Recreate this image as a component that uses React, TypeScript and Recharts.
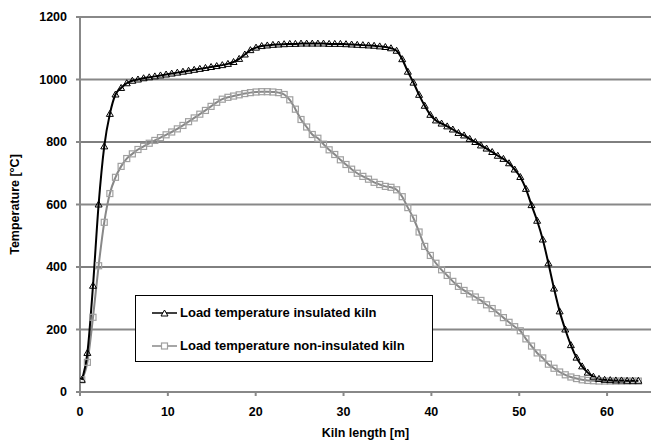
import { LineChart, Line, XAxis, YAxis, ReferenceLine, Legend, Label } from 'recharts'

// kiln position of every calculation point [m]
const KILN_X = [
  0.2, 0.84, 1.48, 2.12, 2.76, 3.4, 4.04, 4.68, 5.32, 5.96,
  6.6, 7.24, 7.88, 8.52, 9.16, 9.8, 10.44, 11.08, 11.72, 12.36,
  13.0, 13.64, 14.28, 14.92, 15.56, 16.2, 16.84, 17.48, 18.12, 18.76,
  19.4, 20.04, 20.68, 21.32, 21.96, 22.6, 23.24, 23.88, 24.52, 25.16,
  25.8, 26.44, 27.08, 27.72, 28.36, 29.0, 29.64, 30.28, 30.92, 31.56,
  32.2, 32.84, 33.48, 34.12, 34.76, 35.4, 36.04, 36.68, 37.32, 37.96,
  38.6, 39.24, 39.88, 40.52, 41.16, 41.8, 42.44, 43.08, 43.72, 44.36,
  45.0, 45.64, 46.28, 46.92, 47.56, 48.2, 48.84, 49.48, 50.12, 50.76,
  51.4, 52.04, 52.68, 53.32, 53.96, 54.6, 55.24, 55.88, 56.52, 57.16,
  57.8, 58.44, 59.08, 59.72, 60.36, 61.0, 61.64, 62.28, 62.92, 63.56,
]

// load temperature, insulated kiln [°C]
const INSULATED = [
  39, 125, 340, 600, 786, 890, 952, 973, 988, 996,
  1000, 1004, 1007, 1010, 1013, 1016, 1019, 1022, 1025, 1028,
  1031, 1034, 1037, 1040, 1043, 1046, 1050, 1056, 1066, 1080,
  1094, 1102, 1107, 1109, 1111, 1112, 1113, 1114, 1114, 1115,
  1115, 1115, 1115, 1115, 1114, 1114, 1114, 1113, 1112, 1111,
  1110, 1109, 1108, 1106, 1104, 1100, 1092, 1065, 1025, 990,
  951, 916, 887, 869, 859, 850, 840, 829, 821, 810,
  800, 789, 779, 768, 756, 746, 732, 712, 688, 650,
  598, 548, 488, 412, 331, 258, 200, 150, 110, 82,
  62, 49, 42, 39, 38, 37, 37, 36, 36, 36,
]

// load temperature, non-insulated kiln [°C]
const NON_INSULATED = [
  39, 95, 239, 404, 543, 635, 687, 722, 747, 762,
  776, 786, 796, 805, 814, 823, 832, 842, 853, 865,
  877, 889, 901, 914, 927, 937, 943, 947, 951, 955,
  958, 960, 961, 961, 960, 958, 952, 935, 905, 872,
  848, 824, 812, 793, 775, 760, 743, 728, 713, 700,
  690, 681, 671, 664, 658, 655, 647, 625, 590, 556,
  512, 466, 437, 412, 391, 373, 354, 338, 325, 314,
  304, 293, 279, 267, 253, 238, 223, 209, 196, 170,
  147, 125, 109, 89, 76, 64, 55, 48, 43, 39,
  37, 36, 35, 35, 35, 35, 35, 35, 35, 35,
]

const X_TICKS = [0, 10, 20, 30, 40, 50, 60]
const Y_TICKS = [0, 200, 400, 600, 800, 1000, 1200]

const LABELS = {
  insulated: 'Load temperature insulated kiln',
  nonInsulated: 'Load temperature non-insulated kiln',
}

const FONT = '"Liberation Sans", Arial, sans-serif'
const tickStyle = { fontSize: 12.5, fontWeight: 700, fill: '#000', fontFamily: FONT }

function triangle(cx: number, cy: number) {
  return `M${cx},${cy - 3.5}L${cx + 3.5},${cy + 2.5}L${cx - 3.5},${cy + 2.5}Z`
}

function TriangleDot(props: any) {
  const { cx, cy, index } = props
  if (cx == null || cy == null) return <g key={index} />
  return <path key={index} d={triangle(cx, cy)} fill="none" stroke="#000" strokeWidth={1} />
}

function SquareDot(props: any) {
  const { cx, cy, index } = props
  if (cx == null || cy == null) return <g key={index} />
  return <rect key={index} x={cx - 3} y={cy - 3} width={6} height={6} fill="none" stroke="#a0a0a0" strokeWidth={1.2} />
}

// grid lines in the original alternate between thin black and thicker grey
const gridStroke = (v: number) => (v === 400 || v === 800 ? '#000' : '#888')
const gridWidth = (v: number) => (v === 400 || v === 800 ? 1 : 2)

function KilnLegend() {
  const row = (label: string, color: string, marker: 'tri' | 'sq') => (
    <div style={{ display: 'flex', alignItems: 'center', height: 33 }}>
      <svg width={44} height={12} style={{ marginLeft: 0 }}>
        <line x1={16} y1={6} x2={41} y2={6} stroke={color} strokeWidth={1.5} />
        {marker === 'tri'
          ? <path d={triangle(28.5, 6.5)} fill="#fff" stroke="#000" strokeWidth={1} />
          : <rect x={25.5} y={3} width={6} height={6} fill="#fff" stroke="#a0a0a0" strokeWidth={1.2} />}
      </svg>
      <span style={{ fontFamily: FONT, fontWeight: 700, fontSize: 13, color: '#000' }}>{label}</span>
    </div>
  )
  return (
    <div style={{ border: '1px solid #000', background: '#fff', width: 296, height: 65, boxSizing: 'content-box' }}>
      {row(LABELS.insulated, '#000', 'tri')}
      {row(LABELS.nonInsulated, '#888', 'sq')}
    </div>
  )
}

export default function App() {
  const data = KILN_X.map((x, i) => ({ x, ins: INSULATED[i], nin: NON_INSULATED[i] }))

  return (
    <div style={{ position: 'absolute', left: 0, top: 0, width: 651, height: 443, background: '#fff' }}>
      <LineChart width={651} height={443} data={data} margin={{ top: 17, right: 0, bottom: 0, left: 0 }}
        style={{ fontFamily: FONT }}>
        {Y_TICKS.filter((v) => v > 0).map((v) => (
          <ReferenceLine key={v} y={v} stroke={gridStroke(v)} strokeWidth={gridWidth(v)} />
        ))}
        <XAxis type="number" dataKey="x" domain={[0, 65]} ticks={X_TICKS} height={51}
          axisLine={{ stroke: '#888', strokeWidth: 2 }} tickLine={{ stroke: '#888', strokeWidth: 2 }}
          tickSize={4} tickMargin={11} tick={tickStyle} allowDataOverflow>
          <Label value="Kiln length [m]" position="insideBottom" offset={6}
            style={{ fontSize: 12.5, fontWeight: 700, fill: '#000', fontFamily: FONT }} />
        </XAxis>
        <YAxis type="number" domain={[0, 1200]} ticks={Y_TICKS} width={80}
          axisLine={{ stroke: '#888', strokeWidth: 2 }} tickLine={{ stroke: '#888', strokeWidth: 2 }}
          tickSize={4} tickMargin={9} tick={tickStyle}>
          <Label value="Temperature [°C]" angle={-90} position="insideLeft" offset={15}
            style={{ fontSize: 12.5, fontWeight: 700, fill: '#000', fontFamily: FONT, textAnchor: 'middle' }} />
        </YAxis>
        <Line type="monotone" dataKey="nin" name={LABELS.nonInsulated} stroke="#888" strokeWidth={2}
          dot={SquareDot} activeDot={false} isAnimationActive={false} />
        <Line type="monotone" dataKey="ins" name={LABELS.insulated} stroke="#000" strokeWidth={2}
          dot={TriangleDot} activeDot={false} isAnimationActive={false} />
        <Legend layout="vertical" align="center" verticalAlign="middle" content={<KilnLegend />}
          wrapperStyle={{ left: 135, top: 295, width: 298, height: 67 }} />
      </LineChart>
    </div>
  )
}
